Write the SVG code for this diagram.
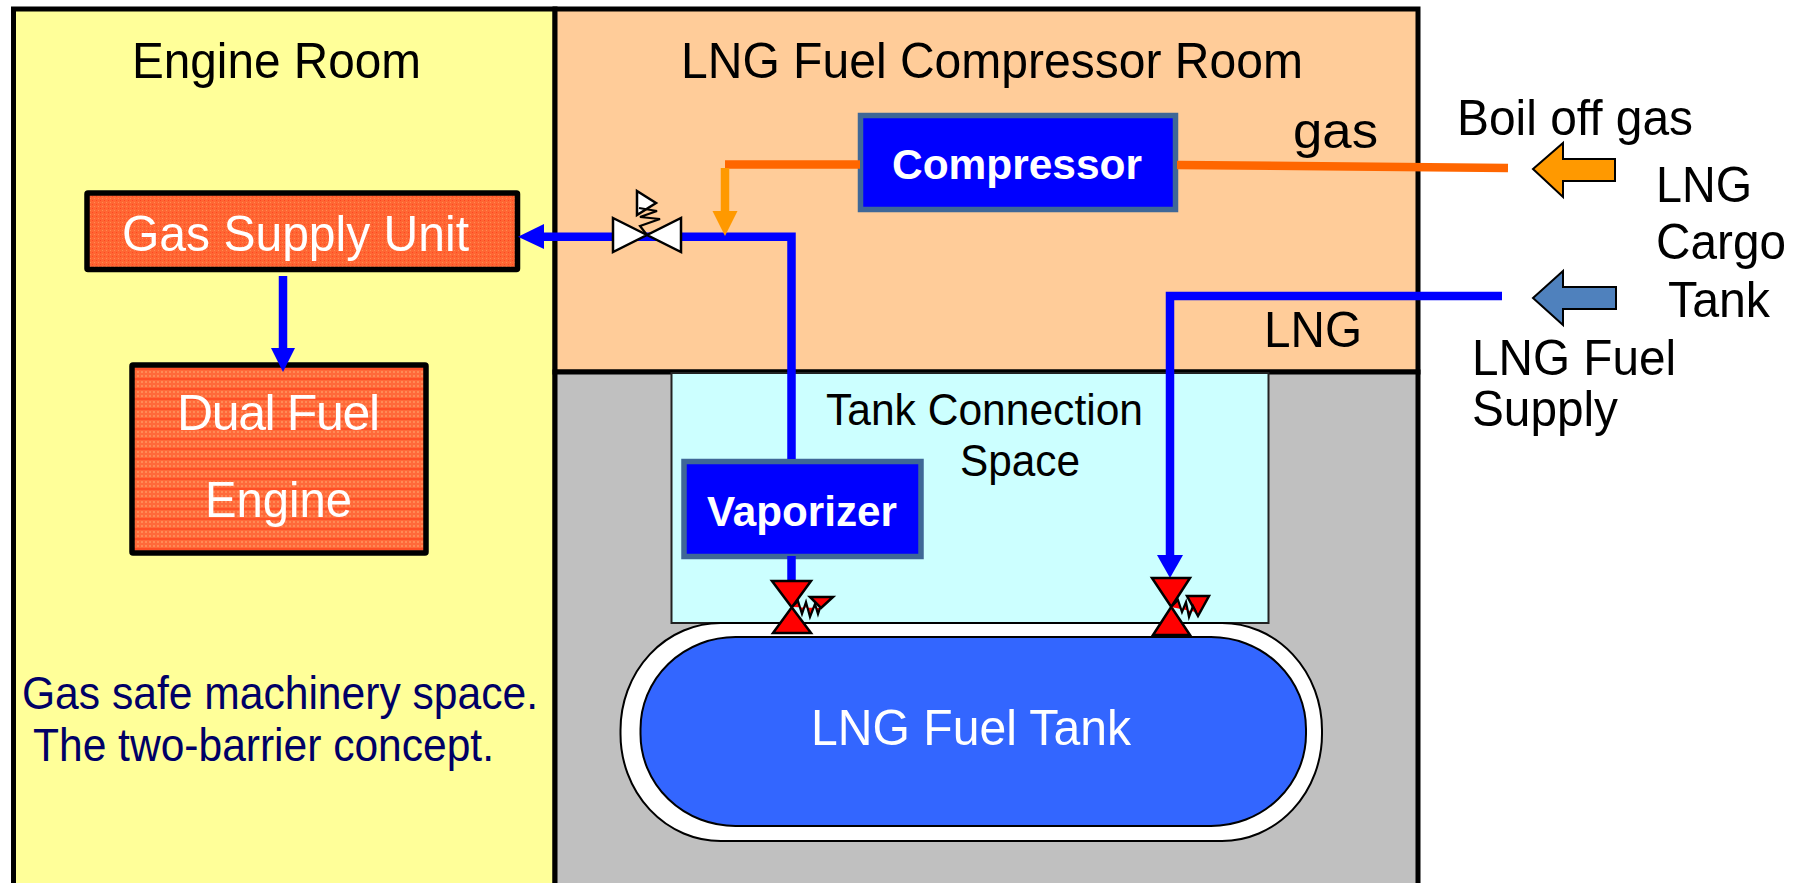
<svg xmlns="http://www.w3.org/2000/svg" width="1800" height="883" viewBox="0 0 1800 883">
<style>
text{font-family:"Liberation Sans",Arial,sans-serif;font-size:50px;fill:#000}
.w{fill:#fff}.b{font-weight:bold;font-size:43px}.n{fill:#000066;font-size:46px}.s{font-size:45px}
.unit{stroke:#000;stroke-width:5.5}
.blue{fill:#0000ff;stroke:#3f6797;stroke-width:5.5}
.pb{fill:none;stroke:#0000ff;stroke-width:8.5}
.po{fill:none;stroke:#ff6600;stroke-width:8.5}
.pa{fill:none;stroke:#ff9900;stroke-width:8.5}
.hb{fill:#0000ff}.ha{fill:#ff9900}
.vr{fill:#ff0000;stroke:#000;stroke-width:2.500}
.vw{fill:#fff;stroke:#000;stroke-width:2.500}
.spr{fill:none;stroke:#000;stroke-width:2.200}
.sprr{fill:#ff0000;stroke:#000;stroke-width:2.200}
</style>
<defs>
<pattern id="brick" width="4" height="4" patternUnits="userSpaceOnUse">
<rect width="4" height="4" fill="#ff6633"/><rect width="1" height="1" fill="#ff4422"/><rect x="2" y="2" width="1" height="1" fill="#ff8a55"/>
</pattern>
<pattern id="brick2" width="8" height="10" patternUnits="userSpaceOnUse">
<rect width="8" height="10" fill="#ff6a3a"/><rect x="1" y="1" width="2" height="2" fill="#ff8a55"/><rect x="5" y="1" width="2" height="2" fill="#ff8a55"/><rect x="1" y="5" width="2" height="2" fill="#ff8a55"/><rect x="5" y="5" width="2" height="2" fill="#ff8a55"/><rect y="8.500" width="8" height="1" fill="#ff3311"/>
</pattern>
</defs>
<rect width="1800" height="883" fill="#fff"/>
<g id="engine-room"><rect x="13.5" y="9" width="541.5" height="880" fill="#ffff99" stroke="#000" stroke-width="5"/>
<text x="132" y="78" textLength="289" lengthAdjust="spacingAndGlyphs">Engine Room</text>
<text class="n" x="22" y="709" textLength="516" lengthAdjust="spacingAndGlyphs">Gas safe machinery space.</text>
<text class="n" x="33" y="761" textLength="461" lengthAdjust="spacingAndGlyphs">The two-barrier concept.</text></g>
<g id="compressor-room"><rect x="555" y="9" width="863" height="363" fill="#ffcc99" stroke="#000" stroke-width="5"/>
<text x="681" y="78" textLength="622" lengthAdjust="spacingAndGlyphs">LNG Fuel Compressor Room</text>
<text x="1293" y="148" textLength="85" lengthAdjust="spacingAndGlyphs">gas</text>
<text x="1264" y="347" textLength="98" lengthAdjust="spacingAndGlyphs">LNG</text></g>
<g id="tank-hold"><rect x="555" y="372" width="863" height="520" fill="#c0c0c0" stroke="#000" stroke-width="5"/></g>
<g id="tank-connection-space"><rect x="671.5" y="373" width="597" height="250" fill="#ccffff" stroke="#222" stroke-width="2"/>
<text class="s" x="826" y="425" textLength="317" lengthAdjust="spacingAndGlyphs">Tank Connection</text>
<text class="s" x="960" y="476" textLength="120" lengthAdjust="spacingAndGlyphs">Space</text></g>
<g id="fuel-tank"><rect x="620.500" y="623" width="701.500" height="218" rx="100" ry="107" fill="#fff" stroke="#000" stroke-width="2"/>
<rect x="640.5" y="637" width="665.500" height="189" rx="95" ry="92" fill="#3366ff" stroke="#000" stroke-width="2"/>
<text class="w" x="811" y="745" textLength="320" lengthAdjust="spacingAndGlyphs">LNG Fuel Tank</text></g>
<g id="gas-supply-unit"><rect class="unit" fill="url(#brick)" x="87" y="193" width="430.500" height="76.500" rx="1"/>
<text class="w" x="122" y="251" textLength="347" lengthAdjust="spacingAndGlyphs">Gas Supply Unit</text></g>
<g id="dual-fuel-engine"><rect class="unit" fill="url(#brick2)" x="132" y="365" width="294" height="188" rx="1"/>
<text class="w" x="177" y="430" textLength="203" lengthAdjust="spacing">Dual Fuel</text>
<text class="w" x="205" y="517" textLength="147" lengthAdjust="spacingAndGlyphs">Engine</text></g>
<g id="compressor"><rect class="blue" x="860.500" y="115.500" width="315" height="94"/>
<text class="w b" x="892" y="179" textLength="250" lengthAdjust="spacingAndGlyphs">Compressor</text></g>
<g id="vaporizer"><rect class="blue" x="684" y="461.500" width="237" height="95"/>
<text class="w b" x="707" y="526" textLength="190" lengthAdjust="spacingAndGlyphs">Vaporizer</text></g>
<g id="connectors">
<path class="pb" d="M283 276V350"/><path class="hb" d="M271 348H295L283 372Z"/>
<path class="pb" d="M791.500 459V236.700H540"/><path class="hb" d="M518 236.700L544 224V249Z"/>
<path class="po" d="M860 164.500H725"/><path class="pa" d="M725 168V214"/><path class="ha" d="M712.500 211H737.500L725 236Z"/>
<path class="po" d="M1177 165L1508 168"/>
<path class="pb" d="M1502 296H1170V558"/><path class="hb" d="M1157 555H1183L1170 578Z"/>
<path class="pb" d="M791.500 556V582"/>
</g>
<g id="relief-valve-top"><path class="vw" d="M613 218L681 252V218L613 252Z"/><path class="vw" d="M637 191L656 203L637 215Z"/>
<path class="spr" d="M647 235L640 226L660 219L640 217L657 211L639 208"/></g>
<g id="tank-valve-left"><path class="vr" d="M772 581H811L773 633H811Z"/><path class="vr" d="M810 597H833L821 608Z"/>
<path class="sprr" d="M792 607L798 601L802 614L806 602L810 617L815 604L818 614L820 608"/></g>
<g id="tank-valve-right"><path class="vr" d="M1152 578H1190L1153 635H1190Z"/><path class="vr" d="M1187 596H1209L1198 616Z"/>
<path class="sprr" d="M1171 607L1178 600L1182 612L1186 602L1189 617L1193 606L1196 612"/></g>
<g id="cargo-side">
<path d="M1533 169L1563 143V159H1615V181H1563V197Z" fill="#ff9900" stroke="#000" stroke-width="2"/>
<path d="M1533 298L1563 271V287H1616V309H1563V325Z" fill="#4f81bd" stroke="#000" stroke-width="2"/>
<text x="1457" y="135" textLength="236" lengthAdjust="spacingAndGlyphs">Boil off gas</text>
<text x="1656" y="202" textLength="96" lengthAdjust="spacingAndGlyphs">LNG</text>
<text x="1656" y="259" textLength="130" lengthAdjust="spacingAndGlyphs">Cargo</text>
<text x="1668" y="317" textLength="102" lengthAdjust="spacingAndGlyphs">Tank</text>
<text x="1472" y="375" textLength="204" lengthAdjust="spacingAndGlyphs">LNG Fuel</text>
<text x="1472" y="426" textLength="146" lengthAdjust="spacingAndGlyphs">Supply</text>
</g>
</svg>
